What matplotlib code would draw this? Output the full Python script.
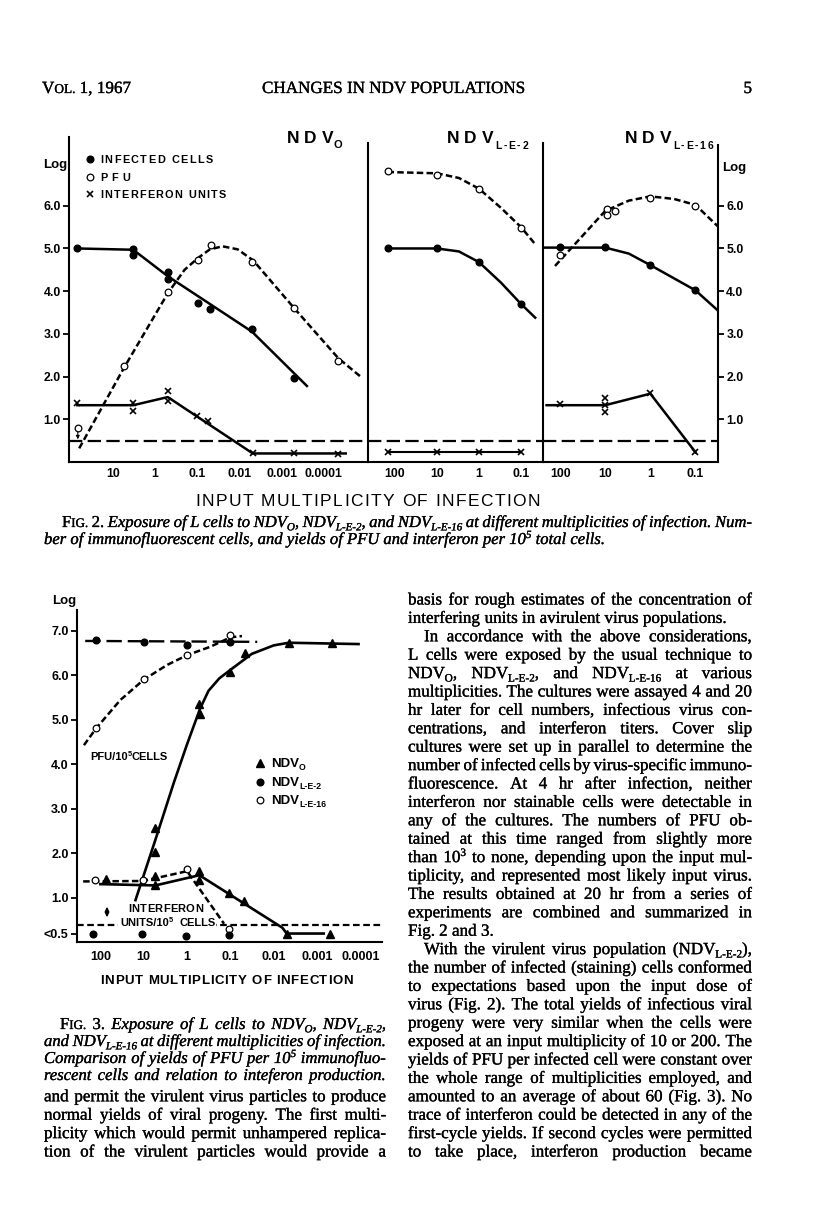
import re
import matplotlib
matplotlib.use("Agg")
import matplotlib.pyplot as plt
import matplotlib.patheffects as pe
from matplotlib.font_manager import FontProperties
from matplotlib.lines import Line2D
from matplotlib.patches import FancyArrowPatch, Rectangle
from matplotlib.ticker import NullLocator

# ---------------------------------------------------------------- data
# Fig. 2 -- x = input multiplicity of infection, y = log value
# NDV_O panel
f2_o_cells_x = [70, 3.3, 3.3, 0.5, 0.5, 0.095, 0.05, 0.005, 0.0005]
f2_o_cells_y = [5.0, 4.98, 4.85, 4.46, 4.29, 3.73, 3.58, 3.11, 1.97]
f2_o_cells_fit_x = [70, 3.3, 0.5, 0.005, 0.00025]
f2_o_cells_fit_y = [5.0, 4.97, 4.35, 3.05, 1.78]
f2_o_pfu_x = [68, 5.5, 0.5, 0.095, 0.047, 0.005, 0.0005, 0.000045]
f2_o_pfu_y = [0.79, 2.25, 3.99, 4.73, 5.08, 4.69, 3.61, 2.37]
f2_o_pfu_fit_x = [63, 5.5, 0.5, 0.2, 0.095, 0.05, 0.025, 0.011, 0.0047, 0.00047, 0.000045, 0.000013]
f2_o_pfu_fit_y = [0.32, 2.2, 3.95, 4.5, 4.78, 4.98, 5.05, 4.98, 4.72, 3.57, 2.43, 1.99]
f2_o_ifn_x = [70, 3.3, 3.3, 0.5, 0.5, 0.1, 0.055, 0.0048, 0.0005, 0.000047]
f2_o_ifn_y = [1.37, 1.39, 1.19, 1.67, 1.43, 1.08, 0.97, 0.20, 0.20, 0.19]
f2_o_ifn_fit_x = [70, 3.3, 0.5, 0.0048, 0.00003]
f2_o_ifn_fit_y = [1.33, 1.33, 1.52, 0.20, 0.20]
# NDV_L-E-2 panel
f2_e2_pfu_x = [150, 10, 1, 0.1]
f2_e2_pfu_y = [6.81, 6.71, 6.39, 5.49]
f2_e2_pfu_fit_x = [150, 10, 3, 1, 0.3, 0.1, 0.046]
f2_e2_pfu_fit_y = [6.79, 6.76, 6.65, 6.40, 5.95, 5.50, 5.10]
f2_e2_cells_x = [150, 10, 1, 0.1]
f2_e2_cells_y = [5.0, 5.0, 4.68, 3.70]
f2_e2_cells_fit_x = [150, 10, 3, 1, 0.3, 0.1, 0.046]
f2_e2_cells_fit_y = [5.0, 5.0, 4.93, 4.68, 4.20, 3.70, 3.38]
f2_e2_ifn_x = [150, 10, 1, 0.1]
f2_e2_ifn_y = [0.23, 0.23, 0.23, 0.23]
# NDV_L-E-16 panel
f2_e16_pfu_x = [100, 9, 9, 6, 1, 0.1]
f2_e16_pfu_y = [4.84, 5.92, 5.79, 5.87, 6.19, 6.00]
f2_e16_pfu_fit_x = [130, 10, 3, 1, 0.3, 0.1, 0.032]
f2_e16_pfu_fit_y = [4.59, 5.88, 6.12, 6.22, 6.16, 6.02, 5.52]
f2_e16_cells_x = [100, 10, 1, 0.1]
f2_e16_cells_y = [5.03, 5.03, 4.61, 4.02]
f2_e16_cells_fit_x = [240, 10, 3, 1, 0.1, 0.032]
f2_e16_cells_fit_y = [5.02, 5.02, 4.88, 4.61, 4.02, 3.55]
f2_e16_ifn_x = [100, 10, 10, 10, 1, 0.1]
f2_e16_ifn_y = [1.35, 1.50, 1.33, 1.18, 1.62, 0.23]
f2_e16_ifn_fit_x = [200, 10, 1, 0.1]
f2_e16_ifn_fit_y = [1.33, 1.33, 1.60, 0.23]
f2_detection = 0.5

f2_yticks = [1, 2, 3, 4, 5, 6]
f2_yticklabels = ["1.0", "2.0", "3.0", "4.0", "5.0", "6.0"]
f2_p1_xticks = [10, 1, 0.1, 0.01, 0.001, 0.0001]
f2_p1_xticklabels = ["10", "1", "0.1", "0.01", "0.001", "0.0001"]
f2_p23_xticks = [100, 10, 1, 0.1]
f2_p23_xticklabels = ["100", "10", "1", "0.1"]

# Fig. 3
f3_o_pfu_x = [5.4, 5.4, 0.52, 0.49, 0.1, 0.047, 0.0045, 0.00045]
f3_o_pfu_y = [2.58, 2.03, 5.35, 5.14, 6.08, 6.51, 6.73, 6.73]
f3_o_pfu_fit_x = [15.5, 5.4, 2.0, 1.0, 0.5, 0.32, 0.18, 0.1, 0.032, 0.01, 0.0045, 0.00011]
f3_o_pfu_fit_y = [0.95, 2.30, 3.60, 4.45, 5.25, 5.65, 5.93, 6.12, 6.48, 6.67, 6.73, 6.70]
f3_o_ifn_x = [76, 5.4, 5.4, 0.52, 0.52, 0.105, 0.049, 0.0049, 0.00049]
f3_o_ifn_y = [1.42, 1.49, 1.28, 1.60, 1.40, 1.10, 0.93, 0.20, 0.18]
f3_o_ifn_fit_x = [100, 5.4, 0.52, 0.0063, 0.005, 0.0007]
f3_o_ifn_fit_y = [1.31, 1.28, 1.51, 0.33, 0.20, 0.20]
f3_e2_pfu_x = [125, 10, 1, 0.1]
f3_e2_pfu_y = [6.79, 6.75, 6.69, 6.75]
f3_e2_pfu_fit_x = [224, 0.024]
f3_e2_pfu_fit_y = [6.77, 6.75]
f3_e2_ifn_x = [150, 11, 1.05, 0.105]
f3_e2_ifn_y = [0.20, 0.18, 0.15, 0.16]
f3_e16_pfu_x = [125, 10, 1, 0.1]
f3_e16_pfu_y = [4.81, 5.91, 6.45, 6.90]
f3_e16_pfu_fit_x = [240, 125, 35, 10, 2.9, 1, 0.29, 0.1, 0.054]
f3_e16_pfu_fit_y = [4.43, 4.81, 5.44, 5.90, 6.23, 6.45, 6.64, 6.85, 6.88]
f3_e16_ifn_x = [130, 10.5, 1, 0.105]
f3_e16_ifn_y = [1.40, 1.40, 1.65, 0.31]
f3_e16_ifn_fit_x = [250, 10.5, 1, 0.14]
f3_e16_ifn_fit_y = [1.37, 1.38, 1.60, 0.42]
f3_detection = 0.4

f3_yticks = [0.2, 1, 2, 3, 4, 5, 6, 7]
f3_yticklabels = ["<0.5", "1.0", "2.0", "3.0", "4.0", "5.0", "6.0", "7.0"]
f3_xticks = [100, 10, 1, 0.1, 0.01, 0.001, 0.0001]
f3_xticklabels = ["100", "10", "1", "0.1", "0.01", "0.001", "0.0001"]

# ---------------------------------------------------------------- text content
header_left = "V~{OL.} 1, 1967"
header_mid = "CHANGES IN NDV POPULATIONS"
header_page = "5"

fig2_caption = [
    "%F~{IG.} %2. Exposure of L cells to NDV_{O}, NDV_{L-E-2}, and NDV_{L-E-16} at different multiplicities of infection. Num-",
    "ber of immunofluorescent cells, and yields of PFU and interferon per 10^{5} total cells.",
]
fig3_caption = [
    "%F~{IG.} %3. Exposure of L cells to NDV_{O}, NDV_{L-E-2},",
    "and NDV_{L-E-16} at different multiplicities of infection.",
    "Comparison of yields of PFU per 10^{5} immunofluo-",
    "rescent cells and relation to inteferon production.",
]
left_body = [
    ("and permit the virulent virus particles to produce", "j"),
    ("normal yields of viral progeny. The first multi-", "j"),
    ("plicity which would permit unhampered replica-", "j"),
    ("tion of the virulent particles would provide a", "j"),
]
right_body = [
    ("basis for rough estimates of the concentration of", "j"),
    ("interfering units in avirulent virus populations.", "l"),
    ("In accordance with the above considerations,", "i"),
    ("L cells were exposed by the usual technique to", "j"),
    ("NDV_{O}, NDV_{L-E-2}, and NDV_{L-E-16} at various", "j"),
    ("multiplicities. The cultures were assayed 4 and 20", "j"),
    ("hr later for cell numbers, infectious virus con-", "j"),
    ("centrations, and interferon titers. Cover slip", "j"),
    ("cultures were set up in parallel to determine the", "j"),
    ("number of infected cells by virus-specific immuno-", "j"),
    ("fluorescence. At 4 hr after infection, neither", "j"),
    ("interferon nor stainable cells were detectable in", "j"),
    ("any of the cultures. The numbers of PFU ob-", "j"),
    ("tained at this time ranged from slightly more", "j"),
    ("than 10^{3} to none, depending upon the input mul-", "j"),
    ("tiplicity, and represented most likely input virus.", "j"),
    ("The results obtained at 20 hr from a series of", "j"),
    ("experiments are combined and summarized in", "j"),
    ("Fig. 2 and 3.", "l"),
    ("With the virulent virus population (NDV_{L-E-2}),", "i"),
    ("the number of infected (staining) cells conformed", "j"),
    ("to expectations based upon the input dose of", "j"),
    ("virus (Fig. 2). The total yields of infectious viral", "j"),
    ("progeny were very similar when the cells were", "j"),
    ("exposed at an input multiplicity of 10 or 200. The", "j"),
    ("yields of PFU per infected cell were constant over", "j"),
    ("the whole range of multiplicities employed, and", "j"),
    ("amounted to an average of about 60 (Fig. 3). No", "j"),
    ("trace of interferon could be detected in any of the", "j"),
    ("first-cycle yields. If second cycles were permitted", "j"),
    ("to take place, interferon production became", "j"),
]

# ---------------------------------------------------------------- figure + text engine
W, H = 816, 1225
fig = plt.figure(figsize=(W / 100, H / 100), dpi=100)
fig.patch.set_facecolor("white")
R = fig.canvas.get_renderer()
PT = 100 / 72.0
SERIF = "Liberation Serif"
SANS = "Liberation Sans"
INK = [pe.withStroke(linewidth=0.22, foreground="black")]


def FP(size, family=SERIF, style="normal", weight="normal"):
    return FontProperties(family=family, size=size, style=style, weight=weight)


def tw(s, f):
    return R.get_text_width_height_descent(s, f, ismath=False)[0]


def fx(x):
    return x / W


def fy(y):
    return 1.0 - y / H


TOK = re.compile(r"(_\{[^}]*\}|\^\{[^}]*\}|~\{[^}]*\})")
KSCALE = {"n": 1.0, "sub": 0.66, "sup": 0.66, "sc": 0.78}
KSHIFT = {"n": 0.0, "sub": -0.20, "sup": 0.36, "sc": 0.0}


def parse(word, style):
    st = style
    if word.startswith("%"):
        word = word[1:]
        st = "normal"
    segs = []
    for part in TOK.split(word):
        if not part:
            continue
        if part[:2] == "_{":
            segs.append((part[2:-1], "sub"))
        elif part[:2] == "^{":
            segs.append((part[2:-1], "sup"))
        elif part[:2] == "~{":
            segs.append((part[2:-1], "sc"))
        else:
            segs.append((part, "n"))
    return segs, st


def seg_fp(kind, size, family, style, weight):
    return FP(size * KSCALE[kind], family, style, weight)


def word_w(segs, size, family, style, weight):
    return sum(tw(s, seg_fp(k, size, family, style, weight)) for s, k in segs)


def draw_word(x, y, segs, size, family, style, weight, ink=False):
    for s, k in segs:
        f = seg_fp(k, size, family, style, weight)
        t = fig.text(fx(x), fy(y - KSHIFT[k] * size * PT), s, fontproperties=f,
                     ha="left", va="baseline", color="black", zorder=4)
        if ink:
            t.set_path_effects(INK)
        x += tw(s, f)
    return x


def space_w(size, family, style, weight):
    f = FP(size, family, style, weight)
    return tw("n n", f) - 2 * tw("n", f)


def tight_w(text, size, family=SERIF, style="normal", weight="normal", sf=1.0):
    words = [parse(w, style) for w in text.split()]
    tot = sum(word_w(sg, size, family, st, weight) for sg, st in words)
    return tot + (len(words) - 1) * sf * space_w(size, family, style, weight)


def draw_line(x0, x1, y, text, size, family=SERIF, style="normal",
              weight="normal", justify=True, indent=0.0, ink=True):
    words = [parse(w, style) for w in text.split()]
    widths = [word_w(sg, size, family, st, weight) for sg, st in words]
    start = x0 + indent
    if justify and len(words) > 1:
        gap = (x1 - start - sum(widths)) / (len(words) - 1)
    else:
        gap = space_w(size, family, style, weight)
    x = start
    for (sg, st), w in zip(words, widths):
        draw_word(x, y, sg, size, family, st, weight, ink=ink)
        x += w + gap


def spaced_text(x0, x1, y, s, size, family=SANS, weight="bold", style="normal"):
    f = FP(size, family, style, weight)
    sp = tw("I I", f) - 2 * tw("I", f)
    ws = [sp if c == " " else tw(c, f) for c in s]
    if sum(ws) > (x1 - x0):
        return spaced_text(x0, x1, y, s, size * (x1 - x0) / sum(ws) * 0.99, family, weight, style)
    extra = (x1 - x0 - sum(ws)) / max(len(s) - 1, 1)
    x = x0
    for c, w in zip(s, ws):
        if c != " ":
            fig.text(fx(x), fy(y), c, fontproperties=f, ha="left", va="baseline", zorder=4)
        x += w + extra


def px_axes(x0, y0, x1, y1):
    return fig.add_axes([x0 / W, 1 - y1 / H, (x1 - x0) / W, (y1 - y0) / H])


def fig_marker(x, y, **kw):
    fig.add_artist(Line2D([fx(x)], [fy(y)], transform=fig.transFigure, ls="none", **kw))


def white_box(x0, y0, x1, y1):
    fig.add_artist(Rectangle((fx(x0), fy(y1)), (x1 - x0) / W, (y1 - y0) / H,
                             transform=fig.transFigure, facecolor="white", edgecolor="none", zorder=3))


# ---------------------------------------------------------------- styles
K = "black"
LW_AX = 1.5
LW = 1.8
DASH_PFU = (2.6, 1.3)
DASH_DET = (6.0, 2.4)
DASH_LONG = (6.5, 2.5)
FILLED = dict(marker="o", ms=4.8, mfc=K, mec=K, ls="none", zorder=5)
OPEN = dict(marker="o", ms=4.8, mfc="white", mec=K, mew=0.9, ls="none", zorder=5)
XMARK = dict(marker="x", ms=4.2, mec=K, mew=1.2, ls="none", zorder=5)
TRI = dict(marker="^", ms=6.2, mfc=K, mec=K, ls="none", zorder=5)
tick_fp2 = FP(8.8, SANS, weight="bold")
tick_fp3 = FP(9, SANS, weight="bold")


def mk(style):
    return {k: v for k, v in style.items() if k not in ("ls", "zorder")}


# ---------------------------------------------------------------- Fig. 2 axes
ax1 = px_axes(69, 137, 368, 462)
ax2 = px_axes(368, 137, 543, 462)
ax3 = px_axes(543, 137, 718, 462)
for ax in (ax1, ax2, ax3):
    ax.set_xscale("log")
    ax.set_ylim(0, 7.61)
    ax.patch.set_alpha(0)
    ax.spines["top"].set_visible(False)
    for sp in ax.spines.values():
        sp.set_linewidth(LW_AX)
ax1.set_xlim(110, 8.9e-6)
ax2.set_xlim(437, 0.030)
ax3.set_xlim(240, 0.0316)
ax2.spines["left"].set_visible(False)
ax3.spines["left"].set_visible(False)
ax1.spines["right"].set_bounds(0, 7.47)
ax2.spines["right"].set_bounds(0, 7.47)
ax3.spines["right"].set_bounds(0, 7.42)

ax1.set_xticks(f2_p1_xticks, f2_p1_xticklabels)
ax2.set_xticks(f2_p23_xticks, f2_p23_xticklabels)
ax3.set_xticks(f2_p23_xticks, f2_p23_xticklabels)
ax1.set_yticks(f2_yticks, f2_yticklabels)
ax2.set_yticks([])
ax3.yaxis.tick_right()
ax3.set_yticks(f2_yticks, f2_yticklabels)
ax1.yaxis.set_ticks_position("left")
for ax in (ax1, ax2, ax3):
    ax.xaxis.set_minor_locator(NullLocator())
    ax.tick_params(axis="x", length=0, pad=4.5)
    ax.tick_params(axis="y", direction="out", length=4, width=1.3, pad=2)
    for lab in ax.get_xticklabels() + ax.get_yticklabels():
        lab.set_fontproperties(tick_fp2)

# NDV_O
ax1.plot(f2_o_cells_fit_x, f2_o_cells_fit_y, color=K, lw=LW)
ax1.plot(f2_o_cells_x, f2_o_cells_y, **FILLED)
ax1.plot(f2_o_pfu_fit_x, f2_o_pfu_fit_y, color=K, lw=LW, dashes=DASH_PFU)
ax1.plot(f2_o_pfu_x, f2_o_pfu_y, **OPEN)
ax1.annotate("", xy=(f2_o_pfu_x[0], f2_o_pfu_y[0] - 0.26), xytext=(f2_o_pfu_x[0], f2_o_pfu_y[0] - 0.09),
             arrowprops=dict(arrowstyle="-|>", color=K, lw=0.8, mutation_scale=5, shrinkA=0, shrinkB=0))
ax1.plot(f2_o_ifn_fit_x, f2_o_ifn_fit_y, color=K, lw=LW)
ax1.plot(f2_o_ifn_x, f2_o_ifn_y, **XMARK)
# NDV_L-E-2
ax2.plot(f2_e2_pfu_fit_x, f2_e2_pfu_fit_y, color=K, lw=LW, dashes=DASH_PFU)
ax2.plot(f2_e2_pfu_x, f2_e2_pfu_y, **OPEN)
ax2.plot(f2_e2_cells_fit_x, f2_e2_cells_fit_y, color=K, lw=LW)
ax2.plot(f2_e2_cells_x, f2_e2_cells_y, **FILLED)
ax2.plot(f2_e2_ifn_x, f2_e2_ifn_y, color=K, lw=1.5)
ax2.plot(f2_e2_ifn_x, f2_e2_ifn_y, **XMARK)
# NDV_L-E-16
ax3.plot(f2_e16_pfu_fit_x, f2_e16_pfu_fit_y, color=K, lw=LW, dashes=DASH_PFU)
ax3.plot(f2_e16_pfu_x, f2_e16_pfu_y, **OPEN)
ax3.plot(f2_e16_cells_fit_x, f2_e16_cells_fit_y, color=K, lw=LW)
ax3.plot(f2_e16_cells_x, f2_e16_cells_y, **FILLED)
ax3.plot(f2_e16_ifn_fit_x, f2_e16_ifn_fit_y, color=K, lw=LW)
ax3.plot(f2_e16_ifn_x, f2_e16_ifn_y, **XMARK)
for ax in (ax1, ax2, ax3):
    ax.axhline(f2_detection, color=K, lw=1.6, dashes=DASH_DET)

# Fig. 2 labels
fig.text(fx(43), fy(168), "Log", fontproperties=FP(9.5, SANS, weight="bold"), ha="left", va="baseline")
fig.text(fx(722), fy(171), "Log", fontproperties=FP(9.5, SANS, weight="bold"), ha="left", va="baseline")
fig_marker(90, 159, **mk(FILLED))
fig_marker(90, 177, **mk(OPEN))
fig_marker(90, 194, **mk(XMARK))
spaced_text(100, 213, 163, "INFECTED CELLS", 7.8)
spaced_text(100, 130, 181, "PFU", 7.8)
spaced_text(100, 226, 198, "INTERFERON UNITS", 7.8)

spaced_text(287, 333, 143, "NDV", 12.5)
fig.text(fx(333), fy(148), "O", fontproperties=FP(8, SANS, weight="bold"), ha="left", va="baseline")
spaced_text(447, 493, 143, "NDV", 12.5)
spaced_text(495, 528, 149, "L-E-2", 7.5)
spaced_text(625, 671, 143, "NDV", 12.5)
spaced_text(673, 713, 149, "L-E-16", 7.5)
spaced_text(195, 540, 506, "INPUT MULTIPLICITY OF INFECTION", 12.5, weight="normal")

# ---------------------------------------------------------------- Fig. 3 axes
ax4 = px_axes(77, 610, 382, 942)
ax4.set_xscale("log")
ax4.set_xlim(347, 3.16e-5)
ax4.set_ylim(0.01, 7.465)
ax4.patch.set_alpha(0)
ax4.spines["top"].set_visible(False)
ax4.spines["right"].set_visible(False)
for sp in ax4.spines.values():
    sp.set_linewidth(LW_AX)
ax4.set_xticks(f3_xticks, f3_xticklabels)
ax4.set_yticks(f3_yticks, f3_yticklabels)
ax4.xaxis.set_minor_locator(NullLocator())
ax4.tick_params(axis="x", length=0, pad=6.5)
ax4.tick_params(axis="y", direction="out", length=4, width=1.3, pad=2)
for lab in ax4.get_xticklabels() + ax4.get_yticklabels():
    lab.set_fontproperties(tick_fp3)

ax4.axhline(f3_detection, color=K, lw=1.6, dashes=(3.0, 1.6))
ax4.plot(f3_e2_pfu_fit_x, f3_e2_pfu_fit_y, color=K, lw=1.7, dashes=DASH_LONG)
ax4.plot(f3_e2_pfu_x, f3_e2_pfu_y, **FILLED)
ax4.plot(f3_e16_pfu_fit_x, f3_e16_pfu_fit_y, color=K, lw=LW, dashes=DASH_PFU)
ax4.plot(f3_e16_pfu_x, f3_e16_pfu_y, **OPEN)
ax4.plot(f3_o_pfu_fit_x, f3_o_pfu_fit_y, color=K, lw=1.9)
ax4.plot(f3_o_pfu_x, f3_o_pfu_y, **TRI)
ax4.plot(f3_o_ifn_fit_x, f3_o_ifn_fit_y, color=K, lw=1.9)
ax4.plot(f3_o_ifn_x, f3_o_ifn_y, **TRI)
ax4.plot(f3_e16_ifn_fit_x, f3_e16_ifn_fit_y, color=K, lw=LW, dashes=DASH_PFU)
ax4.plot(f3_e16_ifn_x, f3_e16_ifn_y, **OPEN)
ax4.plot(f3_e2_ifn_x, f3_e2_ifn_y, **FILLED)

# Fig. 3 labels
fig.text(fx(52), fy(604), "Log", fontproperties=FP(9.5, SANS, weight="bold"), ha="left", va="baseline")
draw_word(90, 760, parse("PFU/10^{5}CELLS", "normal")[0], 8, SANS, "normal", "bold")
fig_marker(260, 763, **mk(TRI))
fig_marker(260, 782, **mk(FILLED))
fig_marker(260, 800, **mk(OPEN))
draw_word(271, 767, parse("NDV_{O}", "normal")[0], 9.5, SANS, "normal", "bold")
draw_word(271, 786, parse("NDV_{L-E-2}", "normal")[0], 9.5, SANS, "normal", "bold")
draw_word(271, 804, parse("NDV_{L-E-16}", "normal")[0], 9.5, SANS, "normal", "bold")
spaced_text(128, 203, 912, "INTERFERON", 8)
white_box(118, 916, 216, 929)
draw_word(120, 926, parse("UNITS/10^{5}", "normal")[0], 8, SANS, "normal", "bold")
fig.text(fx(179), fy(926), "CELLS", fontproperties=FP(8, SANS, weight="bold"), ha="left", va="baseline", zorder=4)
fig.add_artist(FancyArrowPatch((fx(107), fy(920)), (fx(107), fy(904)), transform=fig.transFigure,
                               arrowstyle="<|-|>", mutation_scale=6, lw=1.0, color=K))
spaced_text(100, 353, 984, "INPUT MULTIPLICITY OF INFECTION", 9.5)

# ---------------------------------------------------------------- page text
hsize = 11.0 * 263 / tight_w(header_mid, 11.0)
draw_line(42, 121, 93, header_left, hsize, justify=False)
draw_line(262, 525, 93, header_mid, hsize, justify=True)
fig.text(fx(752), fy(93), header_page, fontproperties=FP(hsize, SERIF), ha="right", va="baseline",
         path_effects=INK)

csize = 10.0 * 690 / tight_w(fig2_caption[0], 10.0, style="italic", sf=0.85)
draw_line(62, 752, 527, fig2_caption[0], csize, style="italic", justify=True)
draw_line(44, 752, 544, fig2_caption[1], csize, style="italic", justify=False)
for i, line in enumerate(fig3_caption):
    draw_line(60 if i == 0 else 44, 386, 1029 + i * 17, line, csize, style="italic", justify=True)

LEAD = 18.4
INDENT = 16
worst = max(tight_w(t, 11.0, sf=0.75) / (344 - (INDENT if f == "i" else 0)) for t, f in right_body if f != "l")
bsize = 11.0 / worst
for i, (t, f) in enumerate(right_body):
    draw_line(408, 752, 604.5 + i * LEAD, t, bsize, justify=(f != "l"), indent=INDENT if f == "i" else 0)
for i, (t, f) in enumerate(left_body):
    draw_line(44, 386, 604.5 + (27 + i) * LEAD, t, bsize, justify=True)

fig.savefig("out.png", dpi=100, facecolor="white")
